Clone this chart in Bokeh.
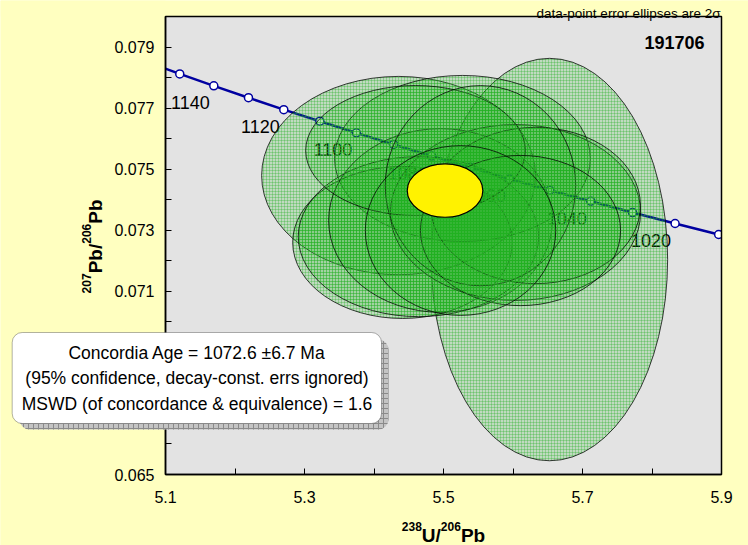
import numpy as np
from bokeh.plotting import figure
from bokeh.models import Range1d, FixedTicker, Label, BoxAnnotation, PrintfTickFormatter
from bokeh.core.properties import value
from bokeh.embed import file_html
from bokeh.resources import INLINE

# ---------------- data ----------------
conc_ages = [1160, 1150, 1140, 1130, 1120, 1110, 1100, 1090, 1080, 1070,
             1060, 1050, 1040, 1030, 1020, 1010, 1000]
conc_x = [5.0723, 5.1205, 5.1695, 5.2194, 5.2702, 5.3220, 5.3746, 5.4282, 5.4829,
          5.5385, 5.5952, 5.6530, 5.7119, 5.7720, 5.8332, 5.8959, 5.9589]
conc_y = [0.07852, 0.07812, 0.07773, 0.07734, 0.07695, 0.07657, 0.07619, 0.07581,
          0.07543, 0.07506, 0.07468, 0.07431, 0.07395, 0.07358, 0.07322, 0.07286, 0.07250]
label_ages = [1140, 1120, 1100, 1080, 1060, 1040, 1020]

spot_x = [5.6525, 5.4353, 5.5273, 5.4410, 5.4640, 5.4957, 5.6036, 5.6324, 5.4597, 5.5532, 5.6108, 5.5245]
spot_x_2s = [0.170, 0.197, 0.184, 0.158, 0.173, 0.161, 0.180, 0.151, 0.158, 0.137, 0.144, 0.137]
spot_y = [0.07204, 0.07479, 0.07535, 0.07260, 0.07279, 0.07332, 0.07358, 0.07381, 0.07561, 0.07446, 0.07299, 0.07299]
spot_y_2s = [0.00659, 0.00325, 0.00272, 0.00249, 0.00262, 0.00301, 0.00288, 0.00256, 0.00213, 0.00328, 0.00246, 0.00278]

age_x, age_x_2s = 5.5022, 0.0544
age_y, age_y_2s = 0.07430, 0.000875

x_lo, x_hi = 5.1, 5.9
y_lo, y_hi = 0.065, 0.080
x_ticks = [5.1, 5.3, 5.5, 5.7, 5.9]
x_minor = [5.2, 5.4, 5.6, 5.8]
y_ticks = [0.065, 0.067, 0.069, 0.071, 0.073, 0.075, 0.077, 0.079]
y_minor = [0.066, 0.068, 0.070, 0.072, 0.074, 0.076, 0.078, 0.080]

sample_name = "191706"
note_text = "data-point error ellipses are 2\u03c3"
box_lines = ["Concordia Age = 1072.6 \u00b16.7 Ma",
             "(95% confidence, decay-const. errs ignored)",
             "MSWD (of concordance & equivalence) = 1.6"]

# ---------------- layout ----------------
W, H = 748, 545
FRAME_L, FRAME_R, FRAME_T, FRAME_B = 165, 721, 16, 474   # plot-box position in pixels
kx = (x_hi - x_lo) / (FRAME_R - FRAME_L)
ky = (y_hi - y_lo) / (FRAME_B - FRAME_T)
XS, XE = x_lo - FRAME_L * kx, x_lo + (W - FRAME_L) * kx
YE, YS = y_hi + FRAME_T * ky, y_hi - (H - FRAME_T) * ky


def dx(px):
    return XS + px * kx


def dy(py):
    return YE - py * ky


YELLOW = "#FFFFC0"
p = figure(width=W, height=H, x_range=Range1d(XS, XE), y_range=Range1d(YS, YE),
           output_backend="svg", toolbar_location=None,
           min_border_left=0, min_border_right=0, min_border_top=0, min_border_bottom=0)
p.background_fill_color = YELLOW
p.border_fill_color = YELLOW
p.outline_line_color = None
p.xgrid.visible = False
p.ygrid.visible = False

p.xaxis.ticker = FixedTicker(ticks=x_ticks, minor_ticks=x_minor)
p.yaxis.ticker = FixedTicker(ticks=y_ticks, minor_ticks=y_minor)
p.xaxis.formatter = PrintfTickFormatter(format="%.1f")
p.yaxis.formatter = PrintfTickFormatter(format="%.3f")
p.xaxis.fixed_location = y_lo
p.yaxis.fixed_location = x_lo
p.xaxis.bounds = (x_lo, x_hi)
p.yaxis.bounds = (y_lo, y_hi)
for ax in (p.xaxis[0], p.yaxis[0]):
    ax.axis_line_color = "black"
    ax.axis_line_width = 1.5
    ax.major_tick_in = 6
    ax.major_tick_out = 0
    ax.minor_tick_in = 6
    ax.minor_tick_out = 0
    ax.major_tick_line_color = "black"
    ax.minor_tick_line_color = "black"
    ax.major_label_text_font = "Liberation Sans"
    ax.major_label_text_font_size = "16px"
    ax.major_label_text_color = "black"
p.xaxis.major_label_standoff = 16
p.yaxis.major_label_standoff = 11

# plot box background
p.quad(left=[x_lo], right=[x_hi], bottom=[y_lo], top=[y_hi], fill_color="#E3E3E3", line_color=None)

# concordia curve
p.line(conc_x, conc_y, line_color="#0000A0", line_width=2.5)
p.scatter(conc_x, conc_y, size=8, fill_color="white", line_color="#0000A0", line_width=1.5)
lab_x = [conc_x[conc_ages.index(a)] for a in label_ages]
lab_y = [conc_y[conc_ages.index(a)] for a in label_ages]
p.text(x=lab_x, y=lab_y, text=[str(a) for a in label_ages], text_align="right",
       text_baseline="middle", x_offset=-4, y_offset=17,
       text_font=value("Liberation Sans"), text_font_size="18px", text_color="black")

# data-point ellipses
p.ellipse(x=spot_x, y=spot_y, width=2 * np.array(spot_x_2s), height=2 * np.array(spot_y_2s),
          fill_color="#22B022", fill_alpha=0.18, hatch_pattern="+", hatch_color="#22B022",
          hatch_alpha=0.3, hatch_scale=3, hatch_weight=1,
          line_color="black", line_alpha=0.75, line_width=1)

# concordia age ellipse
p.ellipse(x=[age_x], y=[age_y], width=[2 * age_x_2s], height=[2 * age_y_2s],
          fill_color="#FFF200", line_color="black", line_width=1.2)

# mask everything outside the plot box, then draw its border
p.quad(left=[XS, XS, x_hi, XS], right=[x_lo, XE, XE, XE],
       bottom=[YS, y_hi, YS, YS], top=[YE, YE, YE, y_lo],
       fill_color=YELLOW, line_color=None)
p.quad(left=[x_lo], right=[x_hi], bottom=[y_lo], top=[y_hi], fill_color=None,
       line_color="black", line_width=1.5)

# annotations
p.add_layout(Label(x=dx(704), y=dy(42), text=sample_name, text_align="right",
                   text_baseline="middle", text_font="Liberation Sans",
                   text_font_style="bold", text_font_size="18px", text_color="black"))
p.add_layout(Label(x=dx(720), y=dy(13), text=note_text, text_align="right",
                   text_baseline="alphabetic", text_font="Liberation Sans",
                   text_font_size="13.5px", text_color="black"))

p.add_layout(BoxAnnotation(left=dx(19), right=dx(388), top=dy(339), bottom=dy(429),
                           fill_color="#C4C4C4", fill_alpha=1, hatch_pattern="+",
                           hatch_color="#8A8A8A", hatch_scale=5, hatch_weight=1,
                           line_color=None, border_radius=10))
p.add_layout(BoxAnnotation(left=dx(11.7), right=dx(381), top=dy(332), bottom=dy(423),
                           fill_color="white", fill_alpha=1, line_color="black",
                           line_width=1, border_radius=10))
for i, t in enumerate(box_lines):
    p.add_layout(Label(x=dx(196.5), y=dy(352 + 25.5 * i), text=t, text_align="center",
                       text_baseline="middle", text_font="Liberation Sans",
                       text_font_size="17.5px", text_color="black"))

# axis titles with superscripts
BIG, SUP = 19, 12
wd, wU, wsl, wP, wb = 0.556, 0.722, 0.278, 0.667, 0.611
xparts = [("238", SUP, 3 * wd * SUP, True), ("U/", BIG, (wU + wsl) * BIG, False),
          ("206", SUP, 3 * wd * SUP, True), ("Pb", BIG, (wP + wb) * BIG, False)]
tot = sum(w for _, _, w, _ in xparts)
cur = 443 - tot / 2
for t, fs, w, sup in xparts:
    p.add_layout(Label(x=dx(cur), y=dy(526 if sup else 535), text=t, text_align="left",
                       text_baseline="alphabetic", text_font="Liberation Sans",
                       text_font_style="bold", text_font_size=f"{fs}px", text_color="black"))
    cur += w

yparts = [("207", SUP, 3 * wd * SUP, True), ("Pb/", BIG, (wP + wb + wsl) * BIG, False),
          ("206", SUP, 3 * wd * SUP, True), ("Pb", BIG, (wP + wb) * BIG, False)]
tot = sum(w for _, _, w, _ in yparts)
cur = 199 + tot
for t, fs, w, sup in yparts:
    p.add_layout(Label(x=dx(86 if sup else 95), y=dy(cur), text=t, text_align="left",
                       text_baseline="alphabetic", angle=np.pi / 2, text_font="Liberation Sans",
                       text_font_style="bold", text_font_size=f"{fs}px", text_color="black"))
    cur -= w

open("out.html", "w").write(file_html(p, INLINE))
